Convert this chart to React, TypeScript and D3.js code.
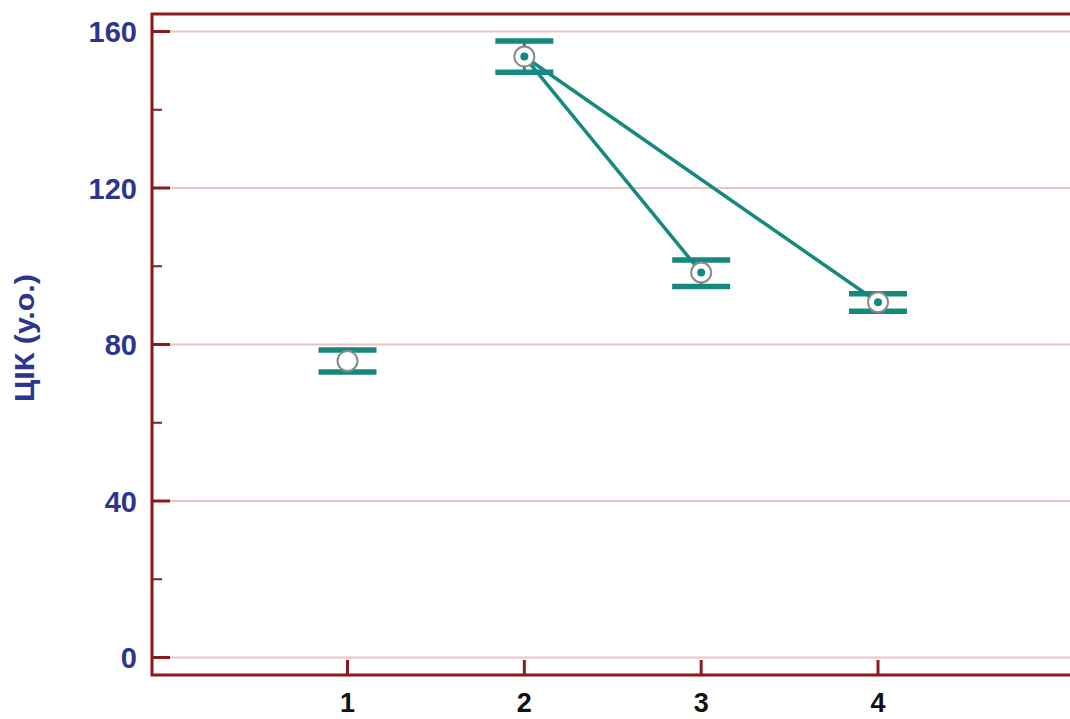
import React, { useEffect, useRef } from 'react';
import * as d3 from 'd3';

// groups on the x axis
const groups = [1, 2, 3, 4];
// mean value and error limits per group
const means = [75.8, 153.6, 98.4, 90.8];
const upper = [78.6, 157.6, 101.6, 93.0];
const lower = [73.0, 149.6, 94.8, 88.5];
// which groups are joined by a line
const links = [[2, 3], [2, 4]];
const yTicks = [0, 40, 80, 120, 160];
const yMinor = [20, 60, 100, 140];

const W = 1070;
const H = 719;

const App = () => {
  const ref = useRef<SVGSVGElement>(null);

  useEffect(() => {
    const svg = d3.select(ref.current);
    svg.selectAll('*').remove();

    const left = 152, right = 1075, top = 14, bottom = 675;
    const axisColor = '#8b1a1a';
    const teal = '#16897f';
    const blue = '#2d3590';

    const x = d3.scaleLinear().domain([1, 4]).range([347.5, 878]);
    const y = d3.scaleLinear().domain([0, 160]).range([657.5, 31.5]);

    // grid lines
    svg.append('g')
      .selectAll('line')
      .data(yTicks)
      .enter()
      .append('line')
      .attr('x1', left)
      .attr('x2', right)
      .attr('y1', d => y(d))
      .attr('y2', d => y(d))
      .attr('stroke', '#ebc3c3')
      .attr('stroke-width', 2);

    // frame
    svg.append('path')
      .attr('d', `M${right},${top}H${left}V${bottom}H${right}`)
      .attr('fill', 'none')
      .attr('stroke', axisColor)
      .attr('stroke-width', 3);

    // y ticks
    svg.append('g')
      .selectAll('line')
      .data(yTicks)
      .enter()
      .append('line')
      .attr('x1', left)
      .attr('x2', left + 18)
      .attr('y1', d => y(d))
      .attr('y2', d => y(d))
      .attr('stroke', axisColor)
      .attr('stroke-width', 3);

    svg.append('g')
      .selectAll('line')
      .data(yMinor)
      .enter()
      .append('line')
      .attr('x1', left)
      .attr('x2', left + 10)
      .attr('y1', d => y(d))
      .attr('y2', d => y(d))
      .attr('stroke', axisColor)
      .attr('stroke-width', 2);

    svg.append('g')
      .selectAll('text')
      .data(yTicks)
      .enter()
      .append('text')
      .attr('x', 137)
      .attr('y', d => y(d) + 10.5)
      .attr('text-anchor', 'end')
      .attr('font-family', 'Liberation Sans, Arial, sans-serif')
      .attr('font-weight', 'bold')
      .attr('font-size', 29)
      .attr('fill', blue)
      .text(d => d);

    // x ticks
    svg.append('g')
      .selectAll('line')
      .data(groups)
      .enter()
      .append('line')
      .attr('x1', d => x(d))
      .attr('x2', d => x(d))
      .attr('y1', bottom)
      .attr('y2', bottom - 15)
      .attr('stroke', axisColor)
      .attr('stroke-width', 3);

    svg.append('g')
      .selectAll('text')
      .data(groups)
      .enter()
      .append('text')
      .attr('x', d => x(d))
      .attr('y', 712)
      .attr('text-anchor', 'middle')
      .attr('font-family', 'Liberation Sans, Arial, sans-serif')
      .attr('font-weight', 'bold')
      .attr('font-size', 27)
      .attr('fill', '#111')
      .text(d => d);

    // y axis title
    svg.append('text')
      .attr('transform', `translate(34,338) rotate(-90)`)
      .attr('text-anchor', 'middle')
      .attr('font-family', 'Liberation Sans, Arial, sans-serif')
      .attr('font-weight', 'bold')
      .attr('font-size', 28)
      .attr('textLength', 128)
      .attr('lengthAdjust', 'spacingAndGlyphs')
      .attr('fill', blue)
      .text('ЦІК (у.о.)');

    // connecting lines
    svg.append('g')
      .selectAll('line')
      .data(links)
      .enter()
      .append('line')
      .attr('x1', d => x(d[0]))
      .attr('y1', d => y(means[d[0] - 1]))
      .attr('x2', d => x(d[1]))
      .attr('y2', d => y(means[d[1] - 1]))
      .attr('stroke', teal)
      .attr('stroke-width', 3.5);

    // error bars
    const eb = svg.append('g')
      .selectAll('g')
      .data(groups)
      .enter()
      .append('g');

    eb.append('line')
      .attr('x1', d => x(d))
      .attr('x2', d => x(d))
      .attr('y1', (d, i) => y(upper[i]))
      .attr('y2', (d, i) => y(lower[i]))
      .attr('stroke', teal)
      .attr('stroke-width', 3);

    eb.append('line')
      .attr('x1', d => x(d) - 29)
      .attr('x2', d => x(d) + 29)
      .attr('y1', (d, i) => y(upper[i]))
      .attr('y2', (d, i) => y(upper[i]))
      .attr('stroke', teal)
      .attr('stroke-width', 5.5);

    eb.append('line')
      .attr('x1', d => x(d) - 29)
      .attr('x2', d => x(d) + 29)
      .attr('y1', (d, i) => y(lower[i]))
      .attr('y2', (d, i) => y(lower[i]))
      .attr('stroke', teal)
      .attr('stroke-width', 5.5);

    // markers
    eb.append('circle')
      .attr('cx', d => x(d))
      .attr('cy', (d, i) => y(means[i]))
      .attr('r', 10)
      .attr('fill', 'white')
      .attr('stroke', '#8a8a8a')
      .attr('stroke-width', 2);

    // dots where the lines end
    const linked = Array.from(new Set(links.flat()));
    svg.append('g')
      .selectAll('circle')
      .data(linked)
      .enter()
      .append('circle')
      .attr('cx', d => x(d))
      .attr('cy', d => y(means[d - 1]))
      .attr('r', 4)
      .attr('fill', teal);
  }, []);

  return (
    <svg
      ref={ref}
      width={W}
      height={H}
      style={{ position: 'absolute', left: 0, top: 0, background: 'white' }}
    />
  );
};

export default App;
